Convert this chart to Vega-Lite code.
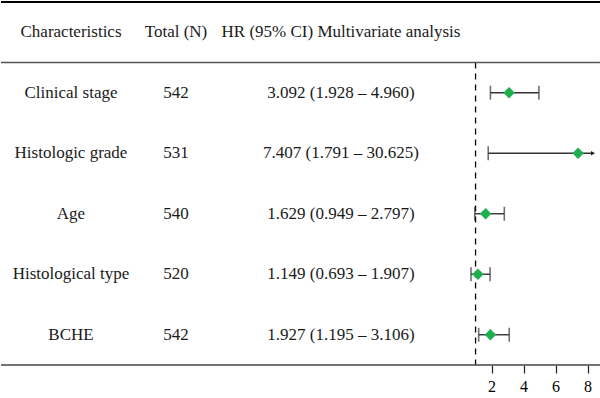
{
  "$schema": "https://vega.github.io/schema/vega-lite/v6.json",
  "padding": {"left": 0, "right": 0, "top": 1, "bottom": 0},
  "spacing": 0,
  "bounds": "flush",
  "config": {
    "view": {"stroke": null},
    "font": "Liberation Serif",
    "text": {"font": "Liberation Serif", "fontSize": 17, "color": "#1a1a1a"}
  },
  "datasets": {
    "rows": [
      {"label": "Characteristics", "n": "Total (N)", "ci": "HR (95% CI) Multivariate analysis", "hr": null, "lo": null, "hi": null},
      {"label": "Clinical stage", "n": "542", "ci": "3.092 (1.928 – 4.960)", "hr": 3.092, "lo": 1.928, "hi": 4.960},
      {"label": "Histologic grade", "n": "531", "ci": "7.407 (1.791 – 30.625)", "hr": 7.407, "lo": 1.791, "hi": 30.625},
      {"label": "Age", "n": "540", "ci": "1.629 (0.949 – 2.797)", "hr": 1.629, "lo": 0.949, "hi": 2.797},
      {"label": "Histological type", "n": "520", "ci": "1.149 (0.693 – 1.907)", "hr": 1.149, "lo": 0.693, "hi": 1.907},
      {"label": "BCHE", "n": "542", "ci": "1.927 (1.195 – 3.106)", "hr": 1.927, "lo": 1.195, "hi": 3.106}
    ]
  },
  "hconcat": [
    {
      "width": 140, "height": 363,
      "layer": [
        {"data": {"name": "rows"}, "mark": {"type": "text"},
         "encoding": {"y": {"field": "label", "type": "nominal", "sort": null, "axis": null, "scale": {"type": "band", "domain": ["Characteristics", "Clinical stage", "Histologic grade", "Age", "Histological type", "BCHE"], "paddingInner": 0, "paddingOuter": 0}}, "text": {"field": "label"}}},
        {"data": {"values": [{}]}, "mark": {"type": "rule", "color": "#000", "strokeWidth": 2}, "encoding": {"y": {"datum": "Characteristics", "type": "nominal", "bandPosition": 0}}},
        {"data": {"values": [{}]}, "mark": {"type": "rule", "color": "#555", "strokeWidth": 1.5}, "encoding": {"y": {"datum": "Characteristics", "type": "nominal", "bandPosition": 1}}},
        {"data": {"values": [{}]}, "mark": {"type": "rule", "color": "#444", "strokeWidth": 1.5}, "encoding": {"y": {"datum": "BCHE", "type": "nominal", "bandPosition": 1}}}
      ]
    },
    {
      "width": 70, "height": 363,
      "layer": [
        {"data": {"name": "rows"}, "mark": {"type": "text"},
         "encoding": {"y": {"field": "label", "type": "nominal", "sort": null, "axis": null, "scale": {"type": "band", "domain": ["Characteristics", "Clinical stage", "Histologic grade", "Age", "Histological type", "BCHE"], "paddingInner": 0, "paddingOuter": 0}}, "text": {"field": "n"}}},
        {"data": {"values": [{}]}, "mark": {"type": "rule", "color": "#000", "strokeWidth": 2}, "encoding": {"y": {"datum": "Characteristics", "type": "nominal", "bandPosition": 0}}},
        {"data": {"values": [{}]}, "mark": {"type": "rule", "color": "#555", "strokeWidth": 1.5}, "encoding": {"y": {"datum": "Characteristics", "type": "nominal", "bandPosition": 1}}},
        {"data": {"values": [{}]}, "mark": {"type": "rule", "color": "#444", "strokeWidth": 1.5}, "encoding": {"y": {"datum": "BCHE", "type": "nominal", "bandPosition": 1}}}
      ]
    },
    {
      "width": 260, "height": 363,
      "layer": [
        {"data": {"name": "rows"}, "mark": {"type": "text"},
         "encoding": {"y": {"field": "label", "type": "nominal", "sort": null, "axis": null, "scale": {"type": "band", "domain": ["Characteristics", "Clinical stage", "Histologic grade", "Age", "Histological type", "BCHE"], "paddingInner": 0, "paddingOuter": 0}}, "text": {"field": "ci"}}},
        {"data": {"values": [{}]}, "mark": {"type": "rule", "color": "#000", "strokeWidth": 2}, "encoding": {"y": {"datum": "Characteristics", "type": "nominal", "bandPosition": 0}}},
        {"data": {"values": [{}]}, "mark": {"type": "rule", "color": "#555", "strokeWidth": 1.5}, "encoding": {"y": {"datum": "Characteristics", "type": "nominal", "bandPosition": 1}}},
        {"data": {"values": [{}]}, "mark": {"type": "rule", "color": "#444", "strokeWidth": 1.5}, "encoding": {"y": {"datum": "BCHE", "type": "nominal", "bandPosition": 1}}}
      ]
    },
    {
      "width": 122, "height": 363,
      "encoding": {
        "y": {"field": "label", "type": "nominal", "sort": null, "axis": null, "scale": {"type": "band", "domain": ["Characteristics", "Clinical stage", "Histologic grade", "Age", "Histological type", "BCHE"], "paddingInner": 0, "paddingOuter": 0}}
      },
      "layer": [
        {"data": {"values": [{}]}, "mark": {"type": "rule", "color": "#000", "strokeWidth": 1.3, "strokeDash": [6, 5]},
         "encoding": {"x": {"datum": 1, "type": "quantitative", "scale": {"domain": [0.715, 8.34], "nice": false, "zero": false, "clamp": true}, "axis": {"values": [2, 4, 6, 8], "title": null, "grid": false, "domain": false, "tickSize": 8, "tickColor": "#222", "tickWidth": 1.2, "labelFont": "Liberation Serif", "labelFontSize": 16, "labelColor": "#000", "labelPadding": 5}},
                      "y": {"datum": "Clinical stage", "type": "nominal", "bandPosition": 0}, "y2": {"datum": "BCHE", "bandPosition": 1}}},
        {"data": {"name": "rows"}, "mark": {"type": "rule", "color": "#333", "strokeWidth": 1.4},
         "encoding": {"x": {"field": "lo", "type": "quantitative"}, "x2": {"field": "hi"}}},
        {"data": {"name": "rows"}, "mark": {"type": "tick", "color": "#333", "thickness": 1.6, "size": 14},
         "encoding": {"x": {"field": "lo", "type": "quantitative"}}},
        {"data": {"name": "rows"}, "transform": [{"filter": "datum.hi != null && datum.hi < 8.34"}], "mark": {"type": "tick", "color": "#333", "thickness": 1.6, "size": 14},
         "encoding": {"x": {"field": "hi", "type": "quantitative"}}},
        {"data": {"name": "rows"}, "transform": [{"filter": "datum.hi != null && datum.hi >= 8.34"}], "mark": {"type": "point", "shape": "triangle-right", "filled": true, "color": "#222", "size": 22, "opacity": 1},
         "encoding": {"x": {"field": "hi", "type": "quantitative"}}},
        {"data": {"name": "rows"}, "mark": {"type": "point", "shape": "diamond", "filled": true, "color": "#1fb04e", "size": 130, "opacity": 1},
         "encoding": {"x": {"field": "hr", "type": "quantitative"}}},
        {"data": {"values": [{}]}, "mark": {"type": "rule", "color": "#000", "strokeWidth": 2}, "encoding": {"y": {"datum": "Characteristics", "type": "nominal", "bandPosition": 0}}},
        {"data": {"values": [{}]}, "mark": {"type": "rule", "color": "#555", "strokeWidth": 1.5}, "encoding": {"y": {"datum": "Characteristics", "type": "nominal", "bandPosition": 1}}},
        {"data": {"values": [{}]}, "mark": {"type": "rule", "color": "#444", "strokeWidth": 1.5}, "encoding": {"y": {"datum": "BCHE", "type": "nominal", "bandPosition": 1}}}
      ]
    },
    {
      "width": 8, "height": 363,
      "layer": [
        {"data": {"values": [{}]}, "mark": {"type": "rule", "color": "#000", "strokeWidth": 2}, "encoding": {"y": {"datum": "Characteristics", "type": "nominal", "bandPosition": 0, "axis": null, "scale": {"type": "band", "domain": ["Characteristics", "Clinical stage", "Histologic grade", "Age", "Histological type", "BCHE"], "paddingInner": 0, "paddingOuter": 0}}}},
        {"data": {"values": [{}]}, "mark": {"type": "rule", "color": "#555", "strokeWidth": 1.5}, "encoding": {"y": {"datum": "Characteristics", "type": "nominal", "bandPosition": 1}}},
        {"data": {"values": [{}]}, "mark": {"type": "rule", "color": "#444", "strokeWidth": 1.5}, "encoding": {"y": {"datum": "BCHE", "type": "nominal", "bandPosition": 1}}}
      ]
    }
  ]
}
